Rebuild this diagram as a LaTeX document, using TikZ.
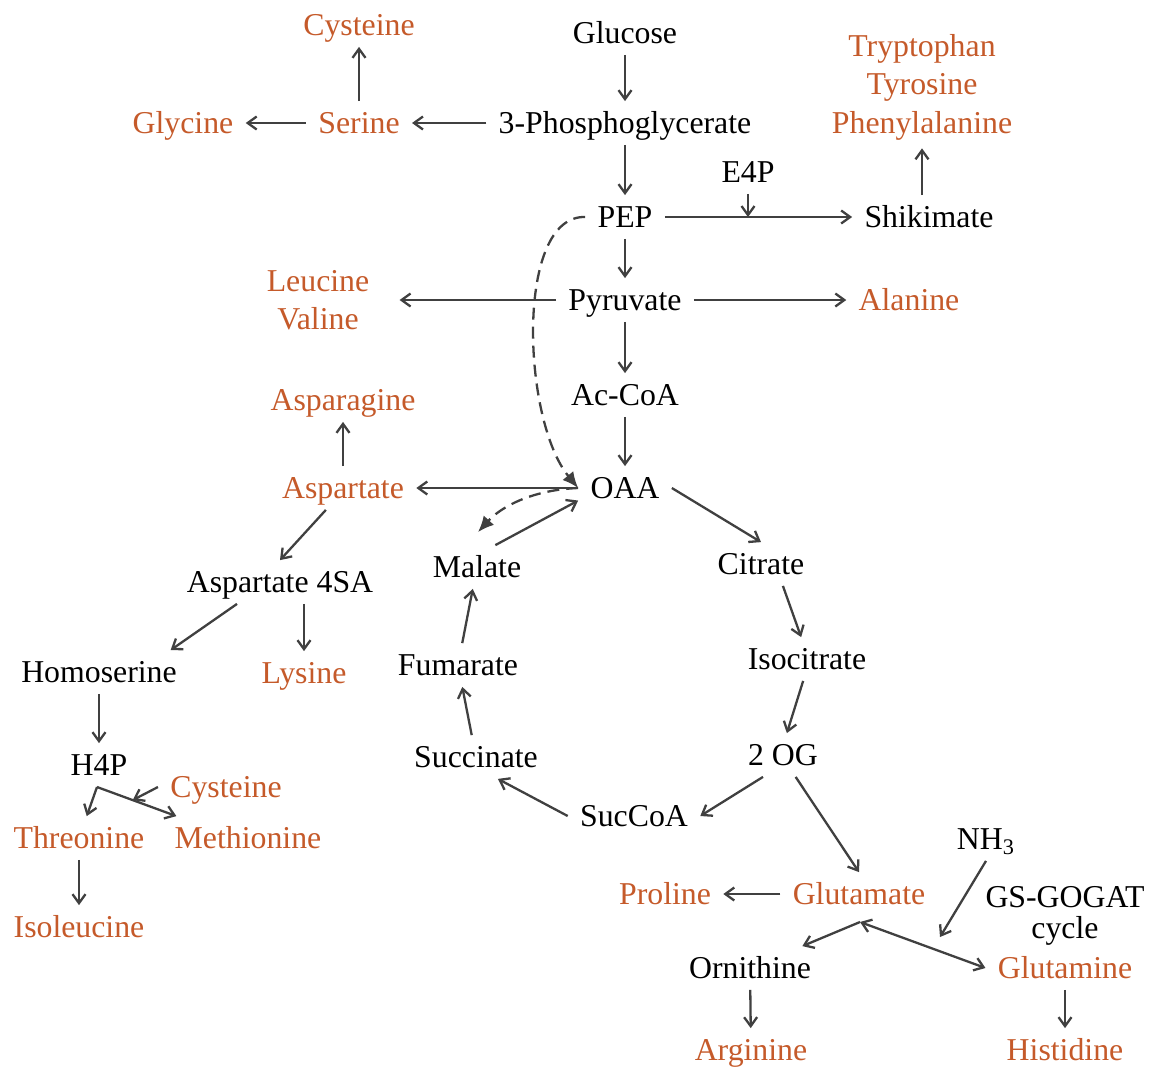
\documentclass[tikz,border=0pt]{standalone}
\usepackage{fontspec}
\setmainfont{Liberation Serif}
\usetikzlibrary{calc,arrows.meta}
\definecolor{aacol}{RGB}{197,90,42}
\definecolor{linecol}{RGB}{64,64,64}

\begin{document}
\begin{tikzpicture}[x=0.5pt,y=-0.5pt,
    every node/.style={font=\fontsize{15.9}{19.25}\selectfont, inner xsep=6pt, inner ysep=4pt},
    cpd/.style={text height=12pt, text depth=1.5pt},
    aa/.style={cpd, text=aacol},
    grp/.style={align=center, text=aacol},
    >={Straight Barb[length=4.5pt,width=6.5pt]},
    rxn/.style={draw=linecol, line width=1.15pt, ->},
    rxndash/.style={rxn, dash pattern=on 6pt off 3.5pt, -{Latex[length=8pt,width=7pt]}}]
  \useasboundingbox (0,0) rectangle (1155,1066);
  % metabolites
  \foreach \nm/\x/\y/\lbl in {glucose/625/33/Glucose, pgly/625/123/3-Phosphoglycerate,
      pep/625/217/PEP, pyr/625/300/Pyruvate, accoa/625/395/Ac-CoA, oaa/625/488/OAA,
      e4p/748/172/E4P, shik/929/217/Shikimate, asa/280/582/Aspartate 4SA,
      hse/99/672/Homoserine, hfp/99/765/H4P, mal/477/567/Malate, cit/761/564/Citrate,
      icit/807/659/Isocitrate, og/783/755/2 OG, succoa/634/816/SucCoA,
      succ/476/757/Succinate, fum/458/665/Fumarate, orn/750/968/Ornithine}{
    \node[cpd] (\nm) at (\x,\y) {\lbl};
  }
  \node[cpd] (nh) at (986,839) {NH\textsubscript{3}};
  \node[align=center, font=\fontsize{15.9}{15.5}\selectfont] (gsgogat) at (1065,916) {GS-GOGAT\\cycle};
  % amino acids
  \foreach \nm/\x/\y/\lbl in {cysA/359/25/Cysteine, serine/359/123/Serine,
      glycine/183/123/Glycine, ala/909/300/Alanine, asn/343/400/Asparagine,
      asp/343/488/Aspartate, lys/304/673/Lysine, cysB/226/787/Cysteine,
      thr/79/838/Threonine, met/248/838/Methionine, ile/79/927/Isoleucine,
      pro/665/894/Proline, glu/859/894/Glutamate, gln/1065/968/Glutamine,
      arg/751/1050/Arginine, his/1065/1050/Histidine}{
    \node[aa] (\nm) at (\x,\y) {\lbl};
  }
  \node[grp] (arom) at (922,87) {Tryptophan\\Tyrosine\\Phenylalanine};
  \node[grp] (leuval) at (318,300) {Leucine\\Valine};
  % plain arrows
  \foreach \a/\b in {glucose/pgly, pgly/pep, pep/pyr, pyr/accoa, accoa/oaa,
      pgly/serine, serine/glycine, serine/cysA, pep/shik, pyr/ala, oaa/asp,
      asp/asn, hse/hfp, thr/ile, succ/fum, fum/mal, glu/pro, orn/arg, gln/his}{
    \draw[rxn] (\a) -- (\b);
  }
  \draw[rxn, shorten >=9pt] (pyr) -- (pyr -| leuval.east);
  \draw[rxn] (e4p) -- (e4p |- pep);
  \draw[rxn] (shik.north -| arom) -- (arom);
  \draw[rxn] (asp.-128) -- (asa.north);
  \draw[rxn] (asa.-153) -- (hse.17);
  \draw[rxn] (asa.south -| lys) -- (lys);
  % TCA cycle
  \draw[rxn] (mal.50) -- (oaa.195);
  \draw[rxn] (oaa.east) -- (cit.north);
  \draw[rxn] (cit.-45) -- (icit.105);
  \draw[rxn] (icit.-100) -- (og.80);
  \draw[rxn] ($(og.south)+(-20,0)$) -- (succoa.east);
  \draw[rxn] (succoa.west) -- (succ.-45);
  \draw[rxn] (og.-60) -- (glu.north);
  % branch points
  \coordinate (hj) at (97,787);
  \draw[rxn] (hj) -- (thr);
  \draw[rxn] (hj) -- (met.163);
  \draw[rxn] (cysB.west) -- ($(hj)!.45!(met.163)$);
  \coordinate (gj) at (860,922);
  \coordinate (nhin) at (940,937);
  \draw[rxn] (gj) -- (orn);
  \draw[rxn,<->] (gj) -- (gln.west);
  \draw[rxn] (nh.south) -- (nhin);
  % dashed routes
  \draw[rxndash] (pep.west) .. controls (515,215) and (522,420) .. (oaa.west);
  \draw[rxndash] (oaa.west) .. controls (530,490) and (500,508) .. ($(mal.north)+(1,-13)$);
\end{tikzpicture}
\end{document}
